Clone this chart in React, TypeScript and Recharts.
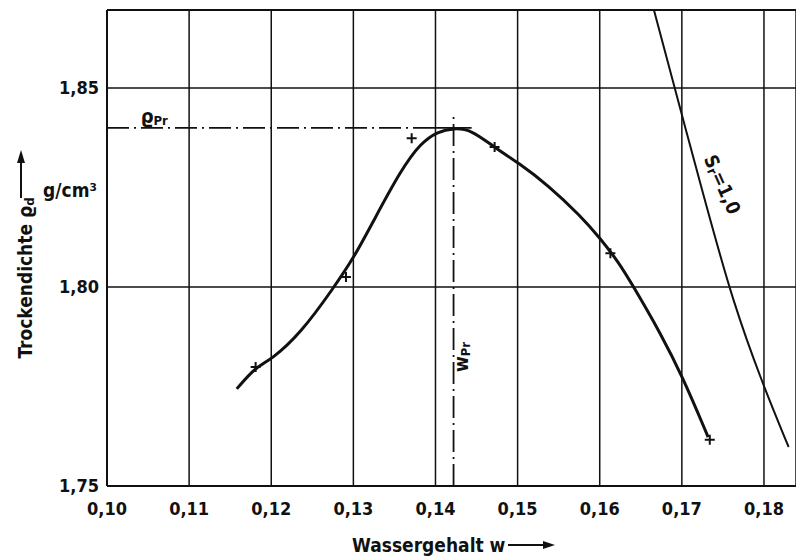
import {
  ComposedChart,
  Line,
  Scatter,
  XAxis,
  YAxis,
  CartesianGrid,
  ReferenceLine,
  ReferenceDot,
} from "recharts";

// Proctor curve (traced line)
const curveW = [
  0.1158, 0.1181, 0.12, 0.1236, 0.1276, 0.1301, 0.1325, 0.1358, 0.1382, 0.1403,
  0.1422, 0.1443, 0.1473, 0.1501, 0.1537, 0.1577, 0.1601, 0.1622, 0.164, 0.1674,
  0.1701, 0.1732,
];
const curveRho = [
  1.7744, 1.7799, 1.7817, 1.7884, 1.7998, 1.8075, 1.8168, 1.8294, 1.8362, 1.8391,
  1.8399, 1.8396, 1.8349, 1.8312, 1.8256, 1.8178, 1.8121, 1.8065, 1.8005, 1.7884,
  1.7774, 1.7623,
];

// measured points (crosses)
const pointW = [0.1181, 0.1291, 0.1371, 0.1472, 0.1613, 0.1734];
const pointRho = [1.7799, 1.8025, 1.8374, 1.8352, 1.8085, 1.7616];

// saturation line S_r = 1,0
const satW = [0.1666, 0.1704, 0.1763, 0.183];
const satRho = [1.8696, 1.8402, 1.7967, 1.7598];

const xTicks = [0.1, 0.11, 0.12, 0.13, 0.14, 0.15, 0.16, 0.17, 0.18];
const yTicks = [1.75, 1.8, 1.85];

const wPr = 0.1422;
const rhoPr = 1.84;
const xMax = 0.1839;
const yTop = 1.8696;

const curve = curveW.map((w, i) => ({ w, rho: curveRho[i] }));
const points = pointW.map((w, i) => ({ w, rho: pointRho[i] }));
const sat = satW.map((w, i) => ({ w, rho: satRho[i] }));

const ink = "#111";
const font = "'DejaVu Sans Condensed', 'DejaVu Sans', sans-serif";
const comma = (v: number) => v.toFixed(2).replace(".", ",");

const Cross = (props: any) => {
  const { cx, cy } = props;
  return (
    <path
      d={`M${cx - 5},${cy}h10M${cx},${cy - 5}v10`}
      stroke={ink}
      strokeWidth={2}
      fill="none"
    />
  );
};

export default function App() {
  return (
    <div
      style={{
        position: "absolute",
        left: 0,
        top: 0,
        width: 796,
        height: 558,
        background: "#fff",
        fontFamily: font,
      }}
    >
      <ComposedChart
        width={796}
        height={558}
        margin={{ top: 10, right: 0, left: 0, bottom: 0 }}
      >
        <CartesianGrid stroke={ink} strokeWidth={1.5} />
        <XAxis
          dataKey="w"
          type="number"
          domain={[0.1, xMax]}
          allowDataOverflow
          ticks={xTicks}
          tickFormatter={comma}
          height={72}
          tickLine={false}
          tickMargin={10}
          axisLine={{ stroke: ink, strokeWidth: 2 }}
          tick={{ fill: ink, fontSize: 18, fontFamily: font, fontWeight: "bold" }}
        />
        <YAxis
          dataKey="rho"
          type="number"
          domain={[1.75, yTop]}
          allowDataOverflow
          ticks={yTicks}
          tickFormatter={comma}
          width={107}
          tickLine={false}
          axisLine={{ stroke: ink, strokeWidth: 2 }}
          tick={{ fill: ink, fontSize: 18, fontFamily: font, fontWeight: "bold" }}
        />
        <ReferenceLine y={yTop} stroke={ink} strokeWidth={2} />
        <ReferenceLine
          segment={[
            { x: 0.1, y: rhoPr },
            { x: 0.14, y: rhoPr },
          ]}
          stroke={ink}
          strokeWidth={1.8}
          strokeDasharray="22 5 2 5"
        />
        <ReferenceLine
          segment={[
            { x: 0.14, y: rhoPr },
            { x: 0.1444, y: rhoPr },
          ]}
          stroke={ink}
          strokeWidth={1.8}
        />
        <ReferenceLine
          segment={[
            { x: wPr, y: 1.75 },
            { x: wPr, y: 1.8437 },
          ]}
          stroke={ink}
          strokeWidth={1.8}
          strokeDasharray="22 5 2 5"
        />
        <Line
          data={curve}
          dataKey="rho"
          type="basis"
          stroke={ink}
          strokeWidth={3}
          dot={false}
          isAnimationActive={false}
        />
        <Line
          data={sat}
          dataKey="rho"
          type="monotone"
          stroke={ink}
          strokeWidth={2}
          dot={false}
          isAnimationActive={false}
        />
        <Scatter
          data={points}
          dataKey="rho"
          shape={Cross}
          isAnimationActive={false}
        />
        <ReferenceDot
          x={0.1041}
          y={1.8412}
          r={0}
          stroke="none"
          label={{
            content: (p: any) => (
              <text
                x={p.viewBox.x}
                y={p.viewBox.y}
                fill={ink}
                fontSize={20}
                fontFamily={font}
                fontWeight="bold"
              >
                ϱ
                <tspan fontSize={13} dy={2}>
                  Pr
                </tspan>
              </text>
            ),
          }}
        />
        <ReferenceDot
          x={0.1434}
          y={1.7824}
          r={0}
          stroke="none"
          label={{
            content: (p: any) => (
              <text
                transform={`translate(${p.viewBox.x + 5},${p.viewBox.y}) rotate(-90)`}
                textAnchor="middle"
                fill={ink}
                fontSize={19}
                fontFamily={font}
                fontWeight="bold"
              >
                w
                <tspan fontSize={13} dy={2}>
                  Pr
                </tspan>
              </text>
            ),
          }}
        />
        <ReferenceDot
          x={0.1742}
          y={1.8251}
          r={0}
          stroke="none"
          label={{
            content: (p: any) => (
              <text
                transform={`translate(${p.viewBox.x},${p.viewBox.y}) rotate(66)`}
                textAnchor="middle"
                fill={ink}
                fontSize={19}
                fontFamily={font}
                fontWeight="bold"
              >
                S
                <tspan fontSize={13} dy={2}>
                  r
                </tspan>
                <tspan dy={-2}>=1,0</tspan>
              </text>
            ),
          }}
        />
      </ComposedChart>
      <svg
        width={796}
        height={558}
        style={{ position: "absolute", left: 0, top: 0, pointerEvents: "none" }}
      >
        <g fill={ink} fontFamily={font} fontWeight="bold">
          <text transform="translate(32,278) rotate(-90)" textAnchor="middle" fontSize={19}>
            Trockendichte ϱ
            <tspan fontSize={13} dy={2}>
              d
            </tspan>
          </text>
          <text x={97} y={197} textAnchor="end" fontSize={19}>
            g/cm³
          </text>
          <text x={352} y={552} fontSize={19}>
            Wassergehalt w
          </text>
        </g>
        <line x1={21} y1={198} x2={21} y2={160} stroke={ink} strokeWidth={2} />
        <polygon points="17,163 25,163 21,150" fill={ink} />
        <line x1={508} y1={545} x2={545} y2={545} stroke={ink} strokeWidth={2} />
        <polygon points="543,541 543,549 555,545" fill={ink} />
      </svg>
    </div>
  );
}
